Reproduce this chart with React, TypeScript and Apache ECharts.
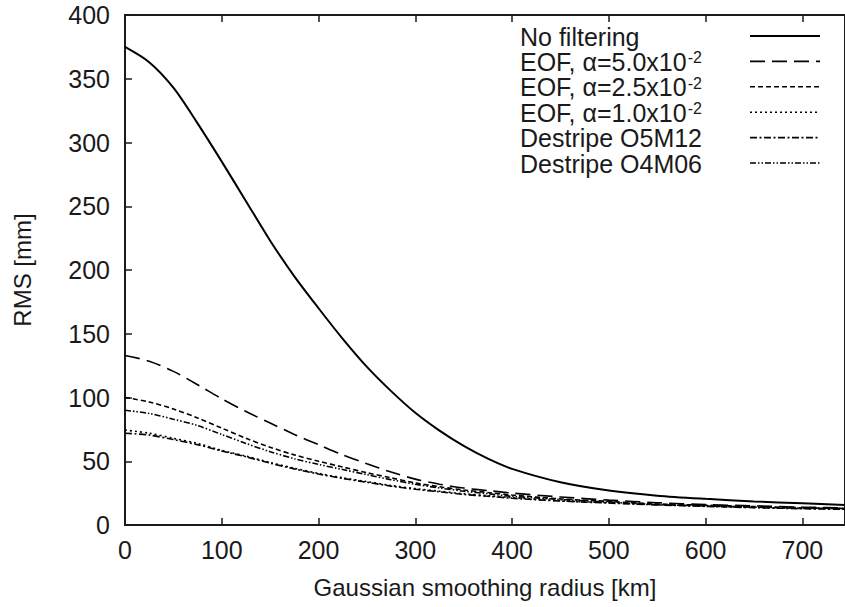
import React, { useEffect, useRef } from "react";
import * as echarts from "echarts";

const radius = [0, 25, 50, 75, 100, 125, 150, 175, 200, 225, 250, 275, 300, 325, 350, 375, 400, 450, 500, 550, 600, 650, 700, 744];

const noFiltering = [375, 363, 343, 315, 285, 254, 223, 195, 170, 146, 124, 105, 88, 74, 62, 52, 44, 33.5, 27, 23, 20.5, 18.5, 17, 15.7];
const eof50 = [133, 128.5, 120.5, 110, 99, 89, 80, 71, 63, 55, 48, 41.5, 36, 32, 29, 27, 25, 22, 19.5, 17.5, 16, 15, 14, 13.5];
const eof25 = [100, 96.5, 91, 84, 76, 68, 61, 55, 50, 45.5, 41, 37, 33, 30, 27.5, 25.5, 23.5, 20.5, 18.5, 16.5, 15.5, 14.5, 13.5, 13];
const eof10 = [74.5, 72, 68, 64, 58.5, 54, 49, 44.5, 40.5, 37, 34, 31, 28.5, 26.5, 24.5, 23, 21.5, 19, 17.5, 16, 14.8, 13.8, 13, 12.5];
const o5m12 = [72, 70.5, 67, 63, 58, 53.5, 48.5, 44, 40, 36.5, 33.5, 30.5, 28, 26, 24, 22.5, 21, 18.8, 17.2, 15.8, 14.6, 13.6, 12.8, 12.3];
const o4m06 = [90, 87.5, 83, 78, 71, 64, 57.5, 52, 47.5, 43.5, 39.5, 35.5, 32, 29, 26.5, 24.5, 22.5, 20, 18, 16, 15, 14, 13.3, 12.8];

const seriesNames = ["No filtering", "EOF, α=5.0x10-2", "EOF, α=2.5x10-2", "EOF, α=1.0x10-2", "Destripe O5M12", "Destripe O4M06"];
const legendLabels = [
  "{a|No filtering}",
  "{a|EOF, α=5.0x10}{s|-2}",
  "{a|EOF, α=2.5x10}{s|-2}",
  "{a|EOF, α=1.0x10}{s|-2}",
  "{a|Destripe O5M12}",
  "{a|Destripe O4M06}",
];
const seriesValues = [noFiltering, eof50, eof25, eof10, o5m12, o4m06];
const dashes: (number[] | null)[] = [null, [15, 7], [5, 3], [2, 3], [7, 2.5, 2, 2.5], [6, 2, 1.5, 2, 1.5, 2]];
const widths = [2, 1.6, 1.6, 1.6, 1.6, 1.6];

const xTitle = "Gaussian smoothing radius [km]";
const yTitle = "RMS [mm]";

const FONT = "'Liberation Sans', Arial, Helvetica, sans-serif";
const INK = "#1a1a1a";
const FS = 25;
const TITLE_FS = 24;

export default function App() {
  const ref = useRef<HTMLDivElement>(null);
  useEffect(() => {
    if (!ref.current) return;
    const chart = echarts.init(ref.current, null, { renderer: "svg" });

    const legendTop = 36;
    const legendStep = 25.4;
    const graphics: any[] = [];
    seriesNames.forEach((_, i) => {
      const y = legendTop + i * legendStep;
      graphics.push({
        type: "text",
        left: 520,
        top: y - 12,
        style: {
          text: legendLabels[i],
          fill: INK,
          fontFamily: FONT,
          rich: {
            a: { fontSize: FS, lineHeight: 24, fontFamily: FONT, fill: INK },
            s: { fontSize: 16, lineHeight: 24, fontFamily: FONT, fill: INK, verticalAlign: "top", padding: [0, 0, 0, 1] },
          },
        },
      });
      graphics.push({
        type: "line",
        shape: { x1: 750, y1: y, x2: 820, y2: y },
        style: { stroke: "#000", lineWidth: widths[i], lineDash: dashes[i] || undefined },
      });
    });

    chart.setOption({
      animation: false,
      backgroundColor: "#fff",
      grid: { left: 125, top: 15, right: 0, bottom: 82, show: true, borderColor: INK, borderWidth: 2, backgroundColor: "transparent" },
      xAxis: [
        {
          type: "value",
          min: 0,
          max: 744,
          interval: 100,
          name: xTitle,
          nameLocation: "middle",
          nameGap: 50,
          nameTextStyle: { fontSize: TITLE_FS, color: INK, fontFamily: FONT },
          axisLine: { show: true, lineStyle: { color: INK, width: 2 } },
          axisTick: { show: true, inside: true, length: 7, lineStyle: { color: INK, width: 1.5 } },
          axisLabel: { fontSize: FS, color: INK, fontFamily: FONT, margin: 12, showMaxLabel: false },
          splitLine: { show: false },
        },
        {
          type: "value",
          position: "top",
          min: 0,
          max: 744,
          interval: 100,
          axisLine: { show: false },
          axisTick: { show: true, inside: true, length: 7, lineStyle: { color: INK, width: 1.5 } },
          axisLabel: { show: false },
          splitLine: { show: false },
        },
      ],
      yAxis: {
        type: "value",
        min: 0,
        max: 400,
        interval: 50,
        name: yTitle,
        nameLocation: "middle",
        nameGap: 91,
        nameTextStyle: { fontSize: TITLE_FS, color: INK, fontFamily: FONT },
        axisLine: { show: true, lineStyle: { color: INK, width: 2 } },
        axisTick: { show: true, inside: true, length: 7, lineStyle: { color: INK, width: 1.5 } },
        axisLabel: { fontSize: FS, color: INK, fontFamily: FONT, margin: 15 },
        splitLine: { show: false },
      },
      series: seriesNames.map((name, i) => ({
        name,
        type: "line",
        xAxisIndex: 0,
        data: radius.map((r, k) => [r, seriesValues[i][k]]),
        smooth: 0.3,
        symbol: "none",
        z: 10 - i,
        lineStyle: { color: "#000", width: widths[i], type: dashes[i] || "solid" },
      })),
      graphic: graphics,
    });
    return () => chart.dispose();
  }, []);
  return <div ref={ref} style={{ width: 845, height: 607, position: "absolute", left: 0, top: 0 }} />;
}
